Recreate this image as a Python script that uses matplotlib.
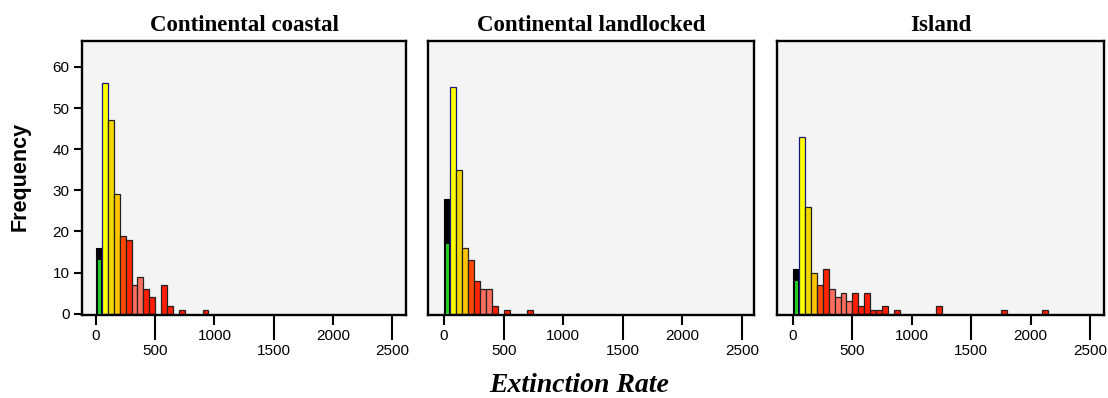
import matplotlib
matplotlib.use("Agg")
import matplotlib.pyplot as plt
from matplotlib.ticker import FixedLocator, FixedFormatter

# Histogram data: bin start (extinction rate) and frequency, bin width 50
bin_width = 50

coastal_starts = [0, 50, 100, 150, 200, 250, 300, 350, 400, 450, 550, 600, 700, 900]
coastal_counts = [16, 56, 47, 29, 19, 18, 7, 9, 6, 4, 7, 2, 1, 1]
coastal_low = 13          # lowest-rate share of the first bin

landlocked_starts = [0, 50, 100, 150, 200, 250, 300, 350, 400, 500, 700]
landlocked_counts = [28, 55, 35, 16, 13, 8, 6, 6, 2, 1, 1]
landlocked_low = 17

island_starts = [0, 50, 100, 150, 200, 250, 300, 350, 400, 450, 500, 550,
                 600, 650, 700, 750, 850, 1200, 1750, 2100]
island_counts = [11, 43, 26, 10, 7, 11, 6, 4, 5, 3, 5, 2, 5, 1, 1, 2, 1, 2, 1, 1]
island_low = 8

panel_titles = ["Continental coastal", "Continental landlocked", "Island"]
y_ticks = [0, 10, 20, 30, 40, 50, 60]
x_major = [0, 1000, 2000]
x_minor = [500, 1500, 2500]

# fill colour by bin position
bin_colours = {50: "#ffff00", 100: "#f2d800", 150: "#ffc400",
               200: "#ff4800", 250: "#ff2400"}


def salmon_range(start, panel):
    if panel in (0, 1):
        return start in (300, 350)
    return start in (300, 350, 400, 450)


def colour_for(start, panel):
    if start in bin_colours:
        return bin_colours[start]
    if salmon_range(start, panel):
        return "#ff6e5e"
    return "#ff1c00"


W, H = 1108, 398
fig = plt.figure(figsize=(W / 100, H / 100), dpi=100)
fig.patch.set_facecolor("white")

boxes = [(82, 406), (428, 754), (777, 1104)]
top_px, bot_px = 41, 315
limits = [(-118, 2618), (-134, 2600), (-135, 2618)]

datasets = [(coastal_starts, coastal_counts, coastal_low),
            (landlocked_starts, landlocked_counts, landlocked_low),
            (island_starts, island_counts, island_low)]

sans = ["Liberation Sans", "DejaVu Sans"]
serif = ["Liberation Serif", "DejaVu Serif"]
tick_size = 11

for i, ((l, r), (starts, counts, low)) in enumerate(zip(boxes, datasets)):
    ax = fig.add_axes([l / W, (H - bot_px) / H, (r - l) / W, (bot_px - top_px) / H])
    ax.set_facecolor("#f4f4f4")
    for s, c in zip(starts, counts):
        if s == 0:
            ax.bar(s, c, width=bin_width, align="edge", color="black",
                   edgecolor="black", linewidth=0.8, zorder=2)
            ax.bar(s + 0.32 * bin_width, low, width=0.5 * bin_width, align="edge",
                   color="#22cc22", edgecolor="none", linewidth=0, zorder=3)
        else:
            ec = "#1a1a80" if s == 50 else "#222222"
            ax.bar(s, c, width=bin_width, align="edge", color=colour_for(s, i),
                   edgecolor=ec, linewidth=0.9, zorder=2)
    ax.set_xlim(*limits[i])
    ax.set_ylim(-0.3, 66.3)

    for sp in ax.spines.values():
        sp.set_linewidth(1.7)
        sp.set_color("black")

    ax.xaxis.set_major_locator(FixedLocator(x_major))
    ax.xaxis.set_minor_locator(FixedLocator(x_minor))
    ax.xaxis.set_major_formatter(FixedFormatter([str(v) for v in x_major]))
    ax.xaxis.set_minor_formatter(FixedFormatter([str(v) for v in x_minor]))
    ax.tick_params(axis="x", which="major", length=7.2, width=1.5, pad=3,
                   direction="out")
    ax.tick_params(axis="x", which="minor", length=18, width=1.5, pad=3,
                   direction="out")
    for lab in ax.get_xticklabels(which="both"):
        lab.set_fontfamily(sans)
        lab.set_fontsize(tick_size)

    if i == 0:
        ax.set_yticks(y_ticks)
        ax.tick_params(axis="y", length=6, width=1.5, pad=3)
        for lab in ax.get_yticklabels():
            lab.set_fontfamily(sans)
            lab.set_fontsize(tick_size)
    else:
        ax.set_yticks([])

    ax.set_title(panel_titles[i], fontsize=16.5, fontweight="bold",
                 family=serif, pad=7)

fig.text(20 / W, 1 - 176 / H, "Frequency", rotation=90, ha="center", va="center",
         fontsize=15.5, fontweight="bold", family=sans)

fig.text(579 / W, 1 - 386 / H, "Extinction Rate", ha="center", va="center",
         fontsize=20, fontweight="bold", fontstyle="italic", family=serif)

fig.savefig("out.png", dpi=100)
